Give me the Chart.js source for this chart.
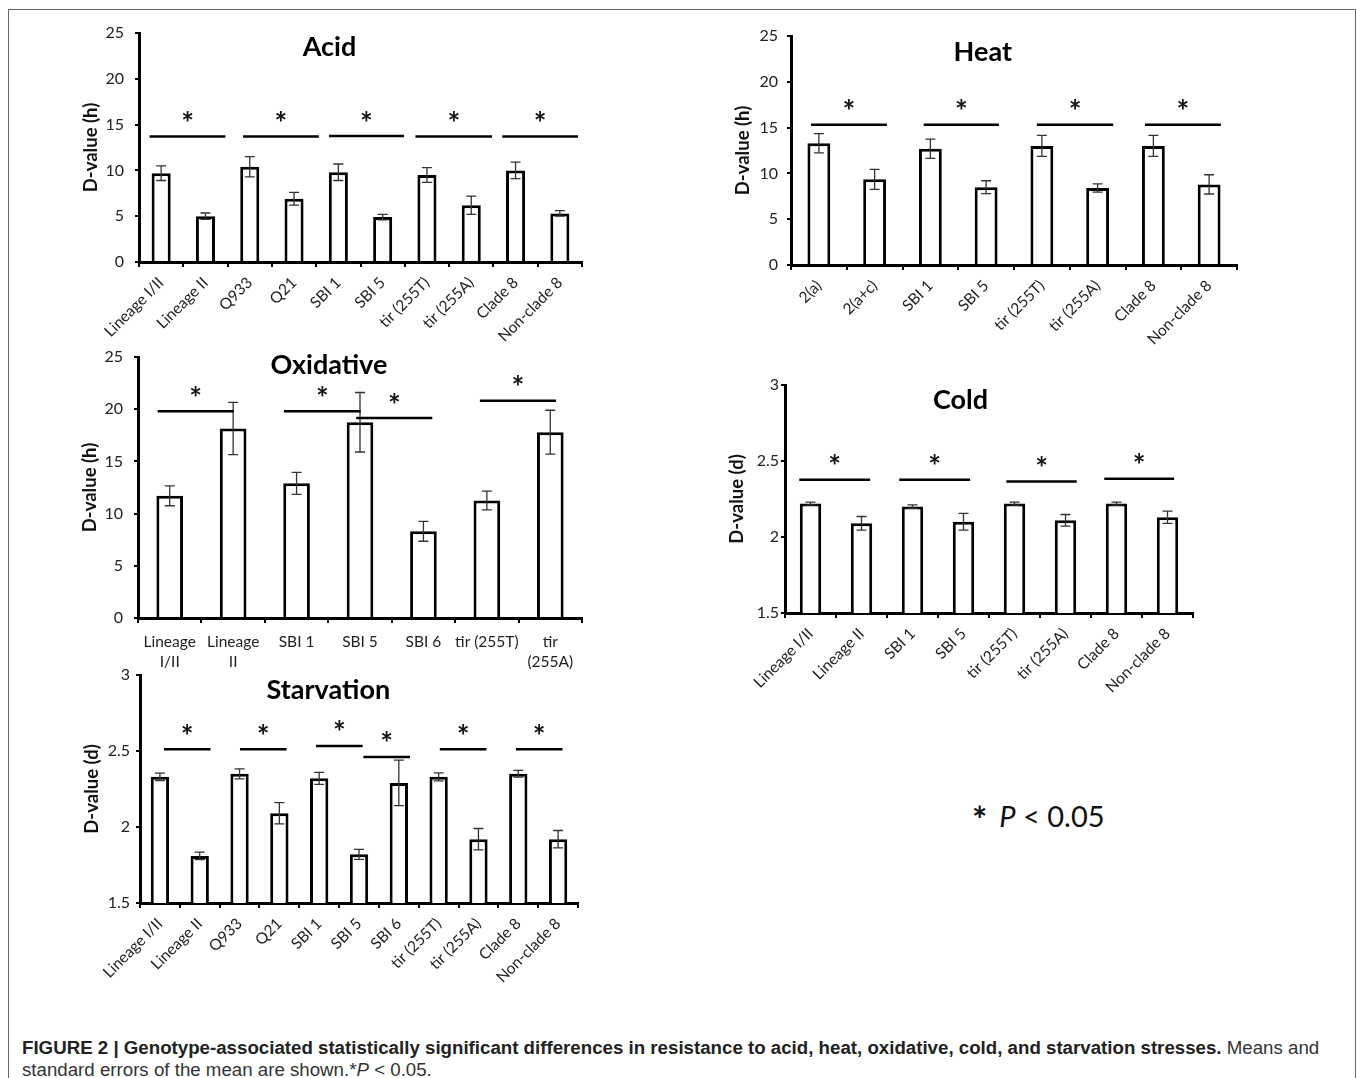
<!DOCTYPE html>
<html>
<head>
<meta charset="utf-8">
<script src="https://cdn.jsdelivr.net/npm/chart.js@4.4.1/dist/chart.umd.min.js"></script>
<style>
  body { margin: 0; background: #fff; width: 1357px; height: 1078px; overflow: hidden; position: relative; }
  #frame { position: absolute; left: 8px; top: 9px; width: 1346px; height: 1100px; border: 1px solid #666; }
  canvas { position: absolute; }
  #pnote { position: absolute; left: 972px; top: 799px; font: 29px Lato, sans-serif; line-height: 34px; color: #111; white-space: nowrap; }
  #pnote .star { font-weight: bold; font-size: 36px; line-height: 0; margin-right: 12px; position: relative; top: 6px; }
  #caption { position: absolute; left: 22px; top: 1037px; font: 18.7px "Liberation Sans", Arial, sans-serif; line-height: 22px; color: #333; white-space: nowrap; }
  #caption b { color: #222; }
</style>
</head>
<body>
<div id="frame"></div>
<div id="pnote"><span class="star">*</span><i>P</i> &lt; 0.05</div>
<div id="caption"><b>FIGURE 2 | Genotype-associated statistically significant differences in resistance to acid, heat, oxidative, cold, and starvation stresses.</b> Means and<br>standard errors of the mean are shown.*<i>P</i> &lt; 0.05.</div>
<script>
// ---- data ----
const acidLabels = ["Lineage I/II","Lineage II","Q933","Q21","SBI 1","SBI 5","tir (255T)","tir (255A)","Clade 8","Non-clade 8"];
const acidMeans = [9.7, 5.0, 10.4, 6.9, 9.8, 4.9, 9.5, 6.2, 10.0, 5.3];
const acidErrors = [0.8, 0.35, 1.1, 0.7, 0.9, 0.3, 0.8, 1.0, 0.9, 0.3];
// significance bars: [from category, to category, D-value]
const acidSig = [[-0.26, 1.45, 13.7], [1.85, 3.56, 13.7], [3.79, 5.48, 13.75], [5.74, 7.47, 13.7], [7.7, 9.41, 13.7]];

const heatLabels = ["2(a)","2(a+c)","SBI 1","SBI 5","tir (255T)","tir (255A)","Clade 8","Non-clade 8"];
const heatMeans = [13.3, 9.35, 12.7, 8.5, 13.0, 8.4, 13.0, 8.8];
const heatErrors = [1.05, 1.1, 1.05, 0.7, 1.15, 0.45, 1.15, 1.05];
const heatSig = [[-0.14, 1.22, 15.3], [1.88, 3.23, 15.3], [3.91, 5.28, 15.3], [5.85, 7.21, 15.3]];

const oxLabels = [["Lineage","I/II"], ["Lineage","II"], "SBI 1", "SBI 5", "SBI 6", "tir (255T)", ["tir","(255A)"]];
const oxMeans = [11.7, 18.15, 12.9, 18.75, 8.3, 11.25, 17.8];
const oxErrors = [0.95, 2.5, 1.05, 2.85, 0.95, 0.9, 2.1];
const oxSig = [[-0.19, 1.01, 19.8], [1.8, 3.01, 19.8], [2.94, 4.14, 19.15], [4.89, 6.09, 20.8]];

const coldLabels = ["Lineage I/II","Lineage II","SBI 1","SBI 5","tir (255T)","tir (255A)","Clade 8","Non-clade 8"];
const coldMeans = [2.22, 2.09, 2.2, 2.1, 2.22, 2.11, 2.22, 2.13];
const coldErrors = [0.01, 0.045, 0.012, 0.055, 0.01, 0.038, 0.01, 0.04];
const coldSig = [[-0.22, 1.17, 2.376], [1.74, 3.13, 2.376], [3.84, 5.22, 2.365], [5.76, 7.13, 2.383]];

const starvLabels = ["Lineage I/II","Lineage II","Q933","Q21","SBI 1","SBI 5","SBI 6","tir (255T)","tir (255A)","Clade 8","Non-clade 8"];
const starvMeans = [2.33, 1.81, 2.35, 2.09, 2.32, 1.82, 2.29, 2.33, 1.92, 2.35, 1.92];
const starvErrors = [0.024, 0.025, 0.033, 0.07, 0.04, 0.033, 0.15, 0.026, 0.07, 0.022, 0.057];
const starvSig = [[0.1, 1.27, 2.512], [2.01, 3.18, 2.512], [3.92, 5.09, 2.533], [5.11, 6.28, 2.461], [7.03, 8.2, 2.512], [8.94, 10.11, 2.512]];

const hourTicks = [0, 5, 10, 15, 20, 25];
const dayTicks = [1.5, 2, 2.5, 3];

const FONT = "Lato, 'Open Sans', sans-serif";

// titles, error bars, significance lines, stars
function overlay(title, errors, sig, titleDy) {
  return {
    id: "overlay",
    afterDatasetsDraw(chart) {
      const ctx = chart.ctx, x = chart.scales.x, y = chart.scales.y, a = chart.chartArea;
      const means = chart.data.datasets[0].data;
      ctx.save();
      // error bars
      ctx.strokeStyle = "#333";
      ctx.lineWidth = 1.3;
      means.forEach((m, i) => {
        const px = x.getPixelForValue(i);
        const top = y.getPixelForValue(m + errors[i]);
        const bot = y.getPixelForValue(m - errors[i]);
        ctx.beginPath();
        ctx.moveTo(px, top); ctx.lineTo(px, bot);
        ctx.moveTo(px - 5, top); ctx.lineTo(px + 5, top);
        ctx.moveTo(px - 5, bot); ctx.lineTo(px + 5, bot);
        ctx.stroke();
      });
      // significance lines and stars
      ctx.strokeStyle = "#000";
      ctx.lineWidth = 2.5;
      ctx.fillStyle = "#111";
      ctx.font = "bold 30px " + FONT;
      ctx.textAlign = "center";
      const mt = ctx.measureText("*");
      sig.forEach(([from, to, v]) => {
        const x1 = x.getPixelForValue(from), x2 = x.getPixelForValue(to), py = y.getPixelForValue(v);
        ctx.beginPath();
        ctx.moveTo(x1, py); ctx.lineTo(x2, py);
        ctx.stroke();
        const cy = py - 20;
        const base = cy - (mt.actualBoundingBoxDescent - mt.actualBoundingBoxAscent) / 2;
        ctx.fillText("*", (x1 + x2) / 2, base);
      });
      // panel title
      ctx.font = "bold 27px " + FONT;
      ctx.textBaseline = "middle";
      ctx.fillStyle = "#000";
      ctx.fillText(title, a.left + 0.43 * (a.right - a.left), a.top + titleDy);
      ctx.restore();
    }
  };
}

const Y_W = 62, PAD_T = 12, PAD_R = 10;

function panel(p) {
  const cv = document.createElement("canvas");
  const w = p.area[1] - p.area[0] + Y_W + PAD_R;
  const h = p.area[3] - p.area[2] + PAD_T + p.xh;
  cv.width = w; cv.height = h;
  cv.style.left = (p.area[0] - Y_W) + "px";
  cv.style.top = (p.area[2] - PAD_T) + "px";
  document.body.appendChild(cv);

  new Chart(cv.getContext("2d"), {
    type: "bar",
    data: {
      labels: p.labels,
      datasets: [{
        data: p.means,
        backgroundColor: "#fff",
        borderColor: "#000",
        borderWidth: 3,
        borderSkipped: "start",
        barPercentage: p.barPct,
        categoryPercentage: 1
      }]
    },
    options: {
      responsive: false,
      animation: false,
      layout: { padding: { top: PAD_T, right: PAD_R, left: 0, bottom: 0 } },
      plugins: { legend: { display: false }, tooltip: { enabled: false } },
      scales: {
        x: {
          afterFit: s => { s.height = p.xh; },
          grid: { display: true, drawOnChartArea: false, drawTicks: true, tickLength: 5, color: "#000", lineWidth: 2 },
          border: { display: true, color: "#000", width: 3 },
          ticks: {
            autoSkip: false,
            minRotation: p.rot, maxRotation: p.rot,
            padding: p.rot ? 6 : 9,
            color: "#222",
            font: { family: FONT, size: 15.5, lineHeight: 1.3 }
          }
        },
        y: {
          min: p.ticks[0], max: p.ticks[p.ticks.length - 1],
          afterFit: s => { s.width = Y_W; s.paddingTop = 0; s.paddingBottom = 0; },
          afterBuildTicks: s => { s.ticks = p.ticks.map(v => ({ value: v })); },
          grid: { display: true, drawOnChartArea: false, drawTicks: true, tickLength: 4, color: "#000", lineWidth: 2 },
          border: { display: true, color: "#000", width: 3 },
          ticks: { padding: p.yPad, color: "#222", font: { family: FONT, size: 16 }, callback: v => String(v) },
          title: { display: true, text: p.yTitle, color: "#111", padding: 3, font: { family: FONT, size: 18.5, weight: "bold" } }
        }
      }
    },
    plugins: [overlay(p.title, p.errors, p.sig, p.titleDy)]
  });
}

// area = [left, right, top, bottom] of the plotting box in page pixels
panel({ title: "Acid", labels: acidLabels, means: acidMeans, errors: acidErrors, sig: acidSig,
  ticks: hourTicks, yTitle: "D-value (h)", area: [139, 582, 33, 262], xh: 95, rot: 45, barPct: 0.43, titleDy: 14, yPad: 11 });
panel({ title: "Heat", labels: heatLabels, means: heatMeans, errors: heatErrors, sig: heatSig,
  ticks: hourTicks, yTitle: "D-value (h)", area: [791, 1237, 36, 265], xh: 95, rot: 45, barPct: 0.41, titleDy: 16, yPad: 9 });
panel({ title: "Oxidative", labels: oxLabels, means: oxMeans, errors: oxErrors, sig: oxSig,
  ticks: hourTicks, yTitle: "D-value (h)", area: [138, 582, 357, 618], xh: 60, rot: 0, barPct: 0.42, titleDy: 8, yPad: 11 });
panel({ title: "Cold", labels: coldLabels, means: coldMeans, errors: coldErrors, sig: coldSig,
  ticks: dayTicks, yTitle: "D-value (d)", area: [785, 1193, 385, 613], xh: 95, rot: 45, barPct: 0.42, titleDy: 15, yPad: 2 });
panel({ title: "Starvation", labels: starvLabels, means: starvMeans, errors: starvErrors, sig: starvSig,
  ticks: dayTicks, yTitle: "D-value (d)", area: [140, 578, 675, 903], xh: 95, rot: 45, barPct: 0.46, titleDy: 15, yPad: 6 });
</script>
</body>
</html>
